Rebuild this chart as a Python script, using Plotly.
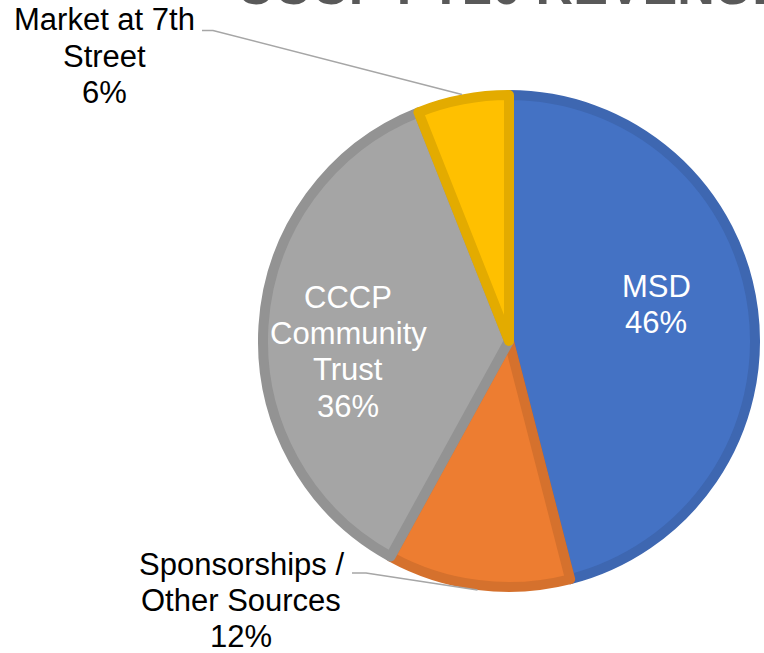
import math
import plotly.graph_objects as go

# ---- data ----
categories = ["MSD", "Sponsorships / Other Sources", "CCCP Community Trust", "Market at 7th Street"]
values = [46, 12, 36, 6]
label_lines = [["MSD"], ["Sponsorships /", "Other Sources"], ["CCCP", "Community", "Trust"], ["Market at 7th", "Street"]]
fill_colors = ["#4472C4", "#ED7D31", "#A5A5A5", "#FFC000"]
border_colors = ["#3E67B1", "#D5712D", "#939393", "#E3AB00"]
title_text = "CCCP FY20 REVENUE"

# ---- layout geometry (page pixels) ----
W, H = 764, 653
PAGE_OFFSET = 0  # body margin removed via post_script
CX, CY, R_OUT = 509, 341, 251
BORDER = 10
R_PIE = R_OUT - BORDER / 2

# label placement: (center x, first baseline y, inside?)
label_pos = [(656, 297, True), (241, 575, False), (348, 308, True), (104, 30.5, False)]
LINE_PITCH = 36.3
FONT_SIZE = 31
# leader line start points (text side) for outside labels
leader_start = {1: (352, 573, 366), 3: (202, 30.5, 213)}


def px_to_paper(x, y):
    return (x - PAGE_OFFSET) / W, 1 - (y - PAGE_OFFSET) / H


fig = go.Figure()
d_x0, d_y1 = px_to_paper(CX - R_PIE, CY - R_PIE)
d_x1, d_y0 = px_to_paper(CX + R_PIE, CY + R_PIE)
fig.add_trace(go.Pie(
    labels=categories,
    values=values,
    sort=False,
    direction="clockwise",
    rotation=0,
    textinfo="none",
    showlegend=False,
    marker=dict(colors=fill_colors, line=dict(color=border_colors, width=BORDER)),
    domain=dict(x=[d_x0, d_x1], y=[d_y0, d_y1]),
))

total = sum(values)
annotations = []
shapes = []
cum = 0
for i, v in enumerate(values):
    frac = v / total
    mid = cum + frac / 2
    cum += frac
    pct = f"{round(frac * 100)}%"
    lines = label_lines[i] + [pct]
    cx_lbl, base0, inside = label_pos[i]
    color = "white" if inside else "black"
    for k, line in enumerate(lines):
        base = base0 + k * LINE_PITCH
        xp, yp = px_to_paper(cx_lbl, base - 0.347 * FONT_SIZE)
        annotations.append(dict(
            x=xp, y=yp, xref="paper", yref="paper", text=line, showarrow=False,
            xanchor="center", yanchor="middle",
            font=dict(family="Liberation Sans, Arial, sans-serif", size=FONT_SIZE, color=color),
        ))
    if not inside:
        theta = 2 * math.pi * mid
        ex = CX + R_OUT * math.sin(theta)
        ey = CY - R_OUT * math.cos(theta)
        sx, sy, kx = leader_start[i]
        p0 = px_to_paper(sx, sy)
        p1 = px_to_paper(kx, sy)
        p2 = px_to_paper(ex, ey)
        shapes.append(dict(
            type="path", xref="paper", yref="paper",
            path=f"M {p0[0]} {p0[1]} L {p1[0]} {p1[1]} L {p2[0]} {p2[1]}",
            line=dict(color="#A6A6A6", width=1.5),
        ))

# title (cut off at the top, as in the reference)
TITLE_SIZE = 52
tx, ty = px_to_paper(234, 4 - 0.347 * TITLE_SIZE)
annotations.append(dict(
    x=tx, y=ty, xref="paper", yref="paper", text=f"<b>{title_text}</b>", showarrow=False,
    xanchor="left", yanchor="middle",
    font=dict(family="Liberation Sans, Arial, sans-serif", size=TITLE_SIZE, color="#595959"),
))

fig.update_layout(
    width=W, height=H, autosize=False,
    margin=dict(l=0, r=0, t=0, b=0),
    paper_bgcolor="white", plot_bgcolor="white",
    annotations=annotations, shapes=shapes,
)

fig.write_html(
    "out.html",
    config={"displayModeBar": False},
    post_script="document.body.style.margin='0px';",
)
